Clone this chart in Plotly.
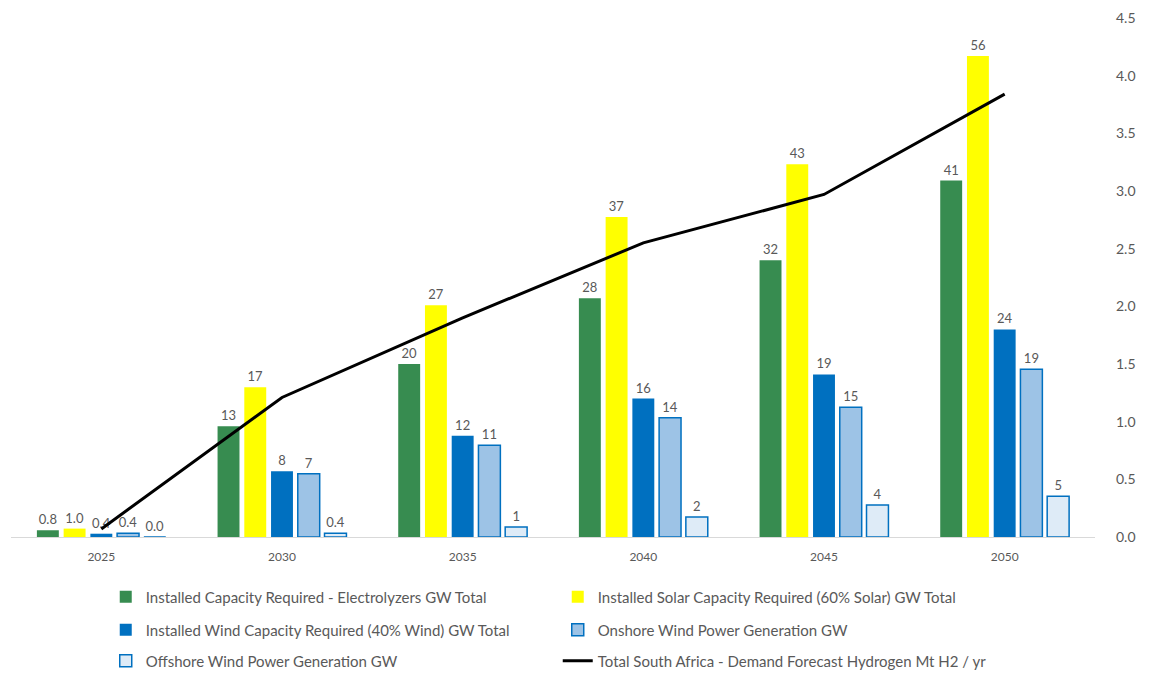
import plotly.graph_objects as go

years = ["2025", "2030", "2035", "2040", "2045", "2050"]
electrolyzers = [0.78, 12.8, 20.0, 27.6, 32.0, 41.2]
solar = [0.97, 17.3, 26.8, 37.0, 43.1, 55.6]
wind_total = [0.38, 7.6, 11.7, 16.0, 18.8, 24.0]
onshore = [0.42, 7.3, 10.6, 13.8, 15.0, 19.4]
offshore = [0.0, 0.44, 1.16, 2.3, 3.7, 4.7]
demand_h2 = [0.07, 1.21, 1.90, 2.55, 2.97, 3.84]

names = [
    "Installed Capacity Required - Electrolyzers GW Total",
    "Installed Solar Capacity Required (60% Solar) GW Total",
    "Installed Wind Capacity Required (40% Wind) GW Total",
    "Onshore Wind Power Generation GW",
    "Offshore Wind Power Generation GW",
    "Total South Africa - Demand Forecast Hydrogen Mt H2 / yr",
]

GRAY = "#595959"
FONT = "Lato"


def labels(vals):
    out = []
    for y, v in zip(years, vals):
        if y == "2025" or v < 1:
            out.append(f"{v:.1f}")
        else:
            out.append(f"{v:.0f}")
    return out


fig = go.Figure()
series = [
    (electrolyzers, "#378C50", "#378C50", 0, "legend"),
    (solar, "#FFFF00", "#FFFF00", 0, "legend"),
    (wind_total, "#0070C0", "#0070C0", 0, "legend2"),
    (onshore, "#9DC3E6", "#0070C0", 1.5, "legend2"),
    (offshore, "#DEEBF7", "#0070C0", 1.5, "legend3"),
]
for (vals, fill, line, lw, lg), nm in zip(series, names):
    fig.add_trace(go.Bar(
        x=years, y=vals, name=nm,
        marker=dict(color=fill, line=dict(color=line, width=lw)),
        text=labels(vals), textposition="outside", cliponaxis=False,
        textfont=dict(color=GRAY, size=13, family=FONT),
        legend=lg,
    ))

fig.add_trace(go.Scatter(
    x=years, y=demand_h2, name=names[5], mode="lines",
    line=dict(color="black", width=3), yaxis="y2", legend="legend3",
))

leg_common = dict(orientation="h", x=0.0874, xanchor="left", entrywidth=407,
                  font=dict(color=GRAY, size=15, family=FONT),
                  bgcolor="rgba(0,0,0,0)", traceorder="normal")

fig.update_layout(
    width=1149, height=673,
    margin=dict(l=11, r=54, t=18, b=136, autoexpand=False),
    paper_bgcolor="white", plot_bgcolor="white",
    barmode="group", bargap=0.26, bargroupgap=0.18,
    font=dict(family=FONT, color=GRAY),
    xaxis=dict(showline=True, linecolor="#D9D9D9", linewidth=1, ticks="",
               ticklabelstandoff=9,
               tickfont=dict(size=12, color=GRAY, family=FONT)),
    yaxis=dict(range=[0, 60], visible=False),
    yaxis2=dict(range=[0, 4.5], dtick=0.5, tickformat=".1f", overlaying="y",
                side="right", showgrid=False, zeroline=False, showline=False,
                ticklabelstandoff=20,
                tickfont=dict(size=14, color=GRAY, family=FONT)),
    legend=dict(y=-0.1156, yanchor="middle", **leg_common),
    legend2=dict(y=-0.1792, yanchor="middle", **leg_common),
    legend3=dict(y=-0.239, yanchor="middle", **leg_common),
)

fig.write_html("out.html")
